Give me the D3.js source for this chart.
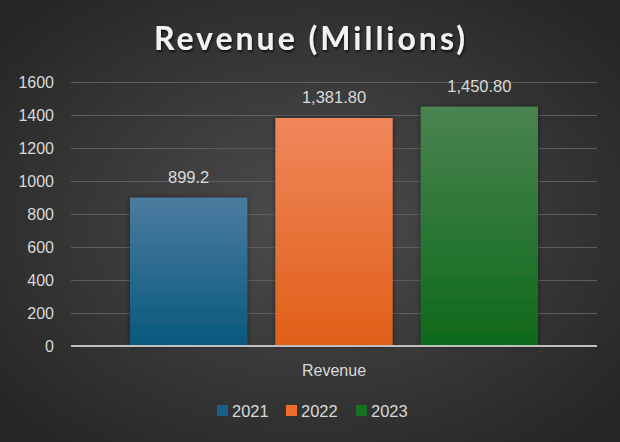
<!DOCTYPE html>
<html><head><meta charset="utf-8">
<script src="https://cdn.jsdelivr.net/npm/d3@7"></script>
<style>html,body{margin:0;padding:0;background:#333;}svg{display:block;}</style>
</head><body>
<svg id="chart" width="620" height="442"></svg>
<script>
const categories = ["Revenue"];
const years = ["2021", "2022", "2023"];
const values = [899.2, 1381.8, 1450.8];
const valueLabels = ["899.2", "1,381.80", "1,450.80"];
const yTicks = [0, 200, 400, 600, 800, 1000, 1200, 1400, 1600];
const colorsTop = ["#4b7c9f", "#f0875c", "#4a8350"];
const colorsBottom = ["#08587e", "#e05f18", "#0e6a1a"];
const legendColors = ["#1b6088", "#ef6d2a", "#176f22"];

const W = 620, H = 442;
const m = {left: 71, right: 597, top: 82, bottom: 346};
const FONT = "Liberation Sans, Arial, sans-serif";
const svg = d3.select("#chart");
const defs = svg.append("defs");

const bg = defs.append("radialGradient").attr("id","bg").attr("cx","50%").attr("cy","50%").attr("r","65%");
bg.append("stop").attr("offset","0%").attr("stop-color","#4d4d4d");
bg.append("stop").attr("offset","100%").attr("stop-color","#262626");
svg.append("rect").attr("width",W).attr("height",H).attr("fill","url(#bg)");

years.forEach((y,i)=>{
  const g = defs.append("linearGradient").attr("id","g"+i).attr("x1",0).attr("y1",0).attr("x2",0).attr("y2",1);
  g.append("stop").attr("offset","0%").attr("stop-color",colorsTop[i]);
  g.append("stop").attr("offset","100%").attr("stop-color",colorsBottom[i]);
});
const sh = defs.append("filter").attr("id","sh").attr("x","-20%").attr("y","-20%").attr("width","140%").attr("height","140%");
sh.append("feDropShadow").attr("dx",0).attr("dy",0).attr("stdDeviation",2.5).attr("flood-color","#000").attr("flood-opacity",0.5);
const tsh = defs.append("filter").attr("id","tsh");
tsh.append("feDropShadow").attr("dx",1).attr("dy",2).attr("stdDeviation",1.2).attr("flood-color","#000").attr("flood-opacity",0.7);

const y = d3.scaleLinear().domain([0,1600]).range([m.bottom, m.top]);
const x0 = d3.scaleBand().domain(categories).range([m.left, m.right]).paddingOuter(0).paddingInner(0);
const x1 = d3.scaleBand().domain(years).range([59, x0.bandwidth()-59]).paddingInner(0.193);

// gridlines
svg.append("g").selectAll("line").data(yTicks.filter(t=>t>0)).join("line")
  .attr("x1",m.left).attr("x2",m.right)
  .attr("y1",d=>Math.round(y(d))+0.5).attr("y2",d=>Math.round(y(d))+0.5)
  .attr("stroke","#5e5e5e").attr("stroke-width",1);

// y axis labels
const yAxis = d3.axisLeft(y).tickValues(yTicks).tickSize(0).tickPadding(0).tickFormat(d3.format("d"));
const ya = svg.append("g").attr("transform",`translate(${m.left-17},0)`).call(yAxis);
ya.select(".domain").remove();
ya.selectAll("text").attr("fill","#d9d9d9").attr("font-family",FONT).attr("font-size",16).attr("dy","0.35em");

// bars
const bars = svg.append("g").attr("transform",`translate(${x0(categories[0])},0)`);
bars.selectAll("rect").data(values).join("rect")
  .attr("x",(d,i)=>x1(years[i])).attr("width",x1.bandwidth())
  .attr("y",d=>y(d)).attr("height",d=>m.bottom-y(d))
  .attr("fill",(d,i)=>`url(#g${i})`).attr("filter","url(#sh)");
bars.selectAll("text").data(values).join("text")
  .attr("x",(d,i)=>x1(years[i])+x1.bandwidth()/2).attr("y",d=>y(d)-15)
  .attr("text-anchor","middle").attr("fill","#d9d9d9")
  .attr("font-family",FONT).attr("font-size",16.5)
  .text((d,i)=>valueLabels[i]);

// baseline
svg.append("line").attr("x1",m.left).attr("x2",m.right).attr("y1",m.bottom).attr("y2",m.bottom)
  .attr("stroke","#bfbfbf").attr("stroke-width",2);

// x axis category
const xAxis = d3.axisBottom(x0).tickSize(0).tickPadding(0);
const xa = svg.append("g").attr("transform",`translate(0,${m.bottom+30})`).call(xAxis);
xa.select(".domain").remove();
xa.selectAll("text").attr("fill","#d9d9d9").attr("font-family",FONT).attr("font-size",16).attr("dy",0);

// title
svg.append("text").attr("x",311).attr("y",50).attr("text-anchor","middle")
  .attr("fill","#f2f2f2").attr("font-family","Lato, sans-serif").attr("font-weight",700)
  .attr("font-size",32).attr("letter-spacing","3px").attr("filter","url(#tsh)")
  .text("Revenue (Millions)");

// legend
const legX = [217, 286, 356];
const leg = svg.append("g");
years.forEach((yr,i)=>{
  leg.append("rect").attr("x",legX[i]).attr("y",405).attr("width",11).attr("height",11).attr("fill",legendColors[i]);
  leg.append("text").attr("x",legX[i]+15).attr("y",417).attr("fill","#d9d9d9")
    .attr("font-family",FONT).attr("font-size",16.5).text(yr);
});
</script>
</body></html>
